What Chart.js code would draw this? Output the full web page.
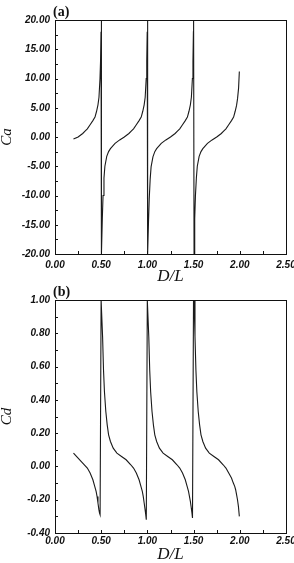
<!DOCTYPE html>
<html>
<head>
<meta charset="utf-8">
<script src="https://cdn.jsdelivr.net/npm/chart.js@4.4.1/dist/chart.umd.min.js"></script>
<style>
  html, body { margin: 0; padding: 0; background: #fff; }
  #wrap { position: relative; width: 294px; height: 563px; overflow: hidden; background: #fff; }
  canvas { position: absolute; left: 0; }
  #cA { top: 0; }
  #cB { top: 280px; }
</style>
</head>
<body>
<div id="wrap">
  <canvas id="cA" width="294" height="290"></canvas>
  <canvas id="cB" width="294" height="283"></canvas>
</div>
<script>
// valores (a) Ca vs D/L
const caX = [
  0.20, 0.25, 0.30, 0.325, 0.35, 0.38, 0.41, 0.433, 0.45, 0.465, 0.476, 0.487, 0.493, 0.498, 0.50,
  0.505, 0.512, 0.52, 0.53, 0.54, 0.56, 0.58, 0.60, 0.65, 0.70, 0.75, 0.80, 0.825, 0.85, 0.88, 0.91, 0.933, 0.95, 0.965, 0.976, 0.987, 0.993, 0.998, 1.00,
  1.005, 1.012, 1.02, 1.03, 1.04, 1.06, 1.08, 1.10, 1.15, 1.20, 1.25, 1.30, 1.325, 1.35, 1.38, 1.41, 1.433, 1.45, 1.465, 1.476, 1.487, 1.493, 1.498, 1.50,
  1.505, 1.512, 1.52, 1.53, 1.54, 1.56, 1.58, 1.60, 1.65, 1.70, 1.75, 1.80, 1.825, 1.85, 1.88, 1.91, 1.933, 1.95, 1.965, 1.976, 1.987, 1.995
];
const caY = [
  -0.35, 0.0, 0.6, 1.0, 1.4, 2.1, 2.8, 3.4, 4.4, 5.5, 6.8, 10, 13, 18, 20,
  -20, -14, -10, -7.0, -5.0, -3.3, -2.5, -2.0, -1.1, -0.5, 0.0, 0.6, 1.0, 1.4, 2.1, 2.8, 3.4, 4.4, 5.5, 6.8, 10, 13, 18, 20,
  -20, -14.5, -10.5, -7.2, -5.1, -3.4, -2.5, -2.0, -1.1, -0.5, 0.0, 0.6, 1.0, 1.4, 2.1, 2.8, 3.4, 4.4, 5.5, 6.8, 10, 13, 18, 20,
  -20, -14, -10, -7.0, -5.0, -3.3, -2.5, -2.0, -1.1, -0.5, 0.0, 0.6, 1.0, 1.4, 2.1, 2.8, 3.4, 4.4, 5.4, 6.6, 8.4, 11.2
];

// (b) Cd vs D/L
const cdX = [
  0.20, 0.25, 0.30, 0.35, 0.38, 0.41, 0.43, 0.445, 0.455, 0.465, 0.475, 0.482, 0.488, 0.499,
  0.505, 0.515, 0.525, 0.535, 0.55, 0.565, 0.58, 0.60, 0.63, 0.67, 0.72, 0.77, 0.82, 0.85, 0.88, 0.91, 0.93, 0.945, 0.955, 0.965, 0.975, 0.982, 0.988, 0.999,
  1.005, 1.015, 1.025, 1.035, 1.05, 1.065, 1.08, 1.10, 1.13, 1.17, 1.22, 1.27, 1.32, 1.35, 1.38, 1.41, 1.43, 1.445, 1.455, 1.465, 1.475, 1.482, 1.488, 1.499,
  1.505, 1.515, 1.525, 1.535, 1.55, 1.565, 1.58, 1.60, 1.63, 1.67, 1.72, 1.77, 1.82, 1.85, 1.88, 1.91, 1.93, 1.945, 1.955, 1.965, 1.975, 1.985, 1.995
];
const cdY = [
  0.08, 0.05, 0.02, -0.01, -0.04, -0.08, -0.12, -0.15, -0.18, -0.22, -0.26, -0.28, -0.29, 1.0,
  1.0, 0.78, 0.58, 0.45, 0.33, 0.25, 0.19, 0.15, 0.11, 0.08, 0.06, 0.04, 0.01, -0.01, -0.04, -0.08, -0.12, -0.15, -0.18, -0.22, -0.26, -0.29, -0.32, 1.0,
  1.0, 0.78, 0.58, 0.45, 0.33, 0.25, 0.19, 0.15, 0.11, 0.08, 0.06, 0.04, 0.01, -0.01, -0.04, -0.08, -0.12, -0.15, -0.18, -0.21, -0.25, -0.28, -0.31, 1.0,
  1.0, 0.78, 0.58, 0.45, 0.33, 0.25, 0.19, 0.15, 0.11, 0.08, 0.06, 0.04, 0.01, -0.01, -0.04, -0.07, -0.10, -0.12, -0.14, -0.17, -0.20, -0.24, -0.30
];

const xTicks = [0, 0.5, 1.0, 1.5, 2.0, 2.5];
const caTicks = [-20, -15, -10, -5, 0, 5, 10, 15, 20];
const cdTicks = [-0.4, -0.2, 0, 0.2, 0.4, 0.6, 0.8, 1.0];

const pts = (xs, ys) => xs.map((x, i) => ({ x, y: ys[i] }));

// marco + marcas hacia dentro + etiqueta (a)/(b)
const marco = {
  id: 'marco',
  afterDraw(chart, args, o) {
    const { ctx, chartArea: a, scales: { x, y } } = chart;
    ctx.save();
    ctx.strokeStyle = '#111';
    ctx.lineWidth = 1;
    ctx.strokeRect(a.left + 0.5, a.top + 0.5, a.width, a.height);
    ctx.beginPath();
    for (let v = x.min; v <= x.max + 1e-9; v += o.xMinor) {
      const px = Math.round(x.getPixelForValue(v)) + 0.5;
      ctx.moveTo(px, a.bottom);
      ctx.lineTo(px, a.bottom - 3);
    }
    for (let v = y.min; v <= y.max + 1e-9; v += o.yMinor) {
      const py = Math.round(y.getPixelForValue(v)) + 0.5;
      ctx.moveTo(a.left, py);
      ctx.lineTo(a.left + 3, py);
    }
    ctx.stroke();
    ctx.fillStyle = '#111';
    ctx.font = 'bold 14px "Liberation Serif"';
    ctx.textBaseline = 'middle';
    ctx.textAlign = 'left';
    ctx.fillText(o.label, a.left - 2, a.top - 8);
    ctx.restore();
  }
};

function hacer(id, data, yMin, yMax, yTicks, yTitle, xH, tickPad, titlePad, label, yMinor) {
  return new Chart(document.getElementById(id), {
    type: 'line',
    data: {
      datasets: [{
        data: data,
        borderColor: '#1a1a1a',
        borderWidth: 1.1,
        pointRadius: 0,
        tension: 0,
        fill: false
      }]
    },
    options: {
      responsive: false,
      animation: false,
      events: [],
      layout: { padding: { top: 20, right: 8, left: 0, bottom: 0 } },
      plugins: {
        legend: { display: false },
        tooltip: { enabled: false },
        marco: { xMinor: 0.25, yMinor: yMinor, label: label }
      },
      scales: {
        x: {
          type: 'linear',
          min: 0, max: 2.5,
          grid: { display: false, drawTicks: false },
          border: { display: false },
          afterBuildTicks: s => { s.ticks = xTicks.map(v => ({ value: v })); },
          afterFit: s => { s.height = xH; s.paddingLeft = 0; s.paddingRight = 0; },
          ticks: {
            maxRotation: 0, autoSkip: false, padding: tickPad, color: '#111',
            font: { family: 'Liberation Sans', size: 10, style: 'italic', weight: 'bold' },
            callback: v => Number(v).toFixed(2)
          },
          title: {
            display: true, text: 'D/L', color: '#111',
            font: { family: 'Liberation Serif', size: 17, style: 'italic', lineHeight: 1 },
            padding: { top: 0, bottom: titlePad }
          }
        },
        y: {
          min: yMin, max: yMax,
          grid: { display: false, drawTicks: false },
          border: { display: false },
          afterBuildTicks: s => { s.ticks = yTicks.map(v => ({ value: v })); },
          afterFit: s => { s.width = 55; s.paddingTop = 0; s.paddingBottom = 0; },
          ticks: {
            padding: 5, color: '#111',
            font: { family: 'Liberation Sans', size: 10, style: 'italic', weight: 'bold' },
            callback: v => Number(v).toFixed(2)
          },
          title: {
            display: true, text: yTitle, color: '#111',
            font: { family: 'Liberation Serif', size: 15, style: 'italic', lineHeight: 1 },
            padding: { top: 0, bottom: 0 }
          }
        }
      }
    },
    plugins: [marco]
  });
}

hacer('cA', pts(caX, caY), -20, 20, caTicks, 'Ca', 36, 5, 5, '(a)', 2.5);
hacer('cB', pts(cdX, cdY), -0.4, 1.0, cdTicks, 'Cd', 30, 2, 0, '(b)', 0.1);
</script>
</body>
</html>
